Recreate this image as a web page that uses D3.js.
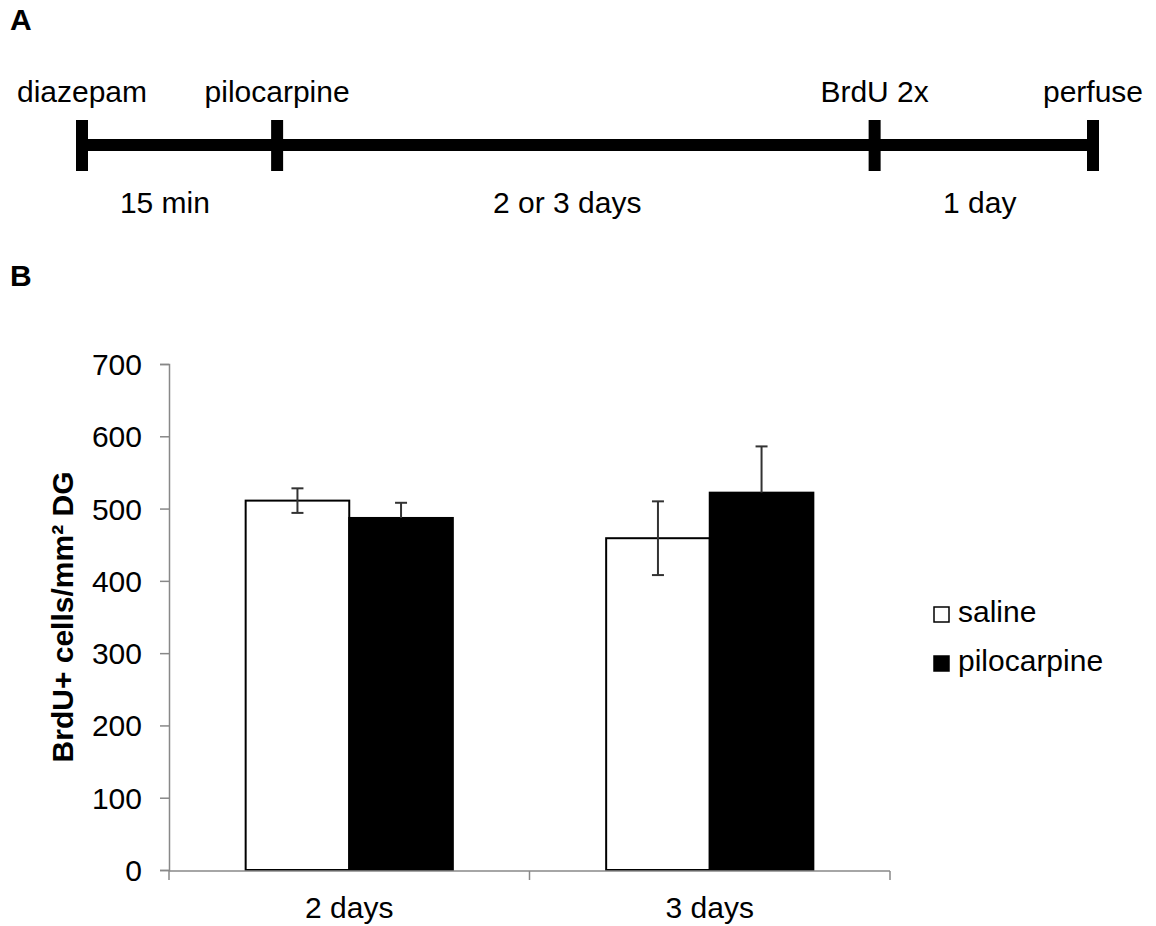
<!DOCTYPE html>
<html>
<head>
<meta charset="utf-8">
<script src="https://cdn.jsdelivr.net/npm/d3@7"></script>
<style>
  html, body { margin: 0; padding: 0; background: #fff; }
  svg { display: block; }
  text { font-family: "Liberation Sans", Arial, sans-serif; fill: #000; }
</style>
</head>
<body>
<script>
// ---- Data ----
const categories = ["2 days", "3 days"];
const series = ["saline", "pilocarpine"];
const salineValues = [511, 459];
const salineErrors = [17, 51];
const pilocarpineValues = [487, 522];
const pilocarpineErrors = [21, 64];
const yTicks = [0, 100, 200, 300, 400, 500, 600, 700];

// Timeline (panel A) – schematic positions on a 0..1 scale
const timelineEvents = ["diazepam", "pilocarpine", "BrdU 2x", "perfuse"];
const timelineEventPos = [0, 0.193, 0.784, 1];
const timelineIntervals = ["15 min", "2 or 3 days", "1 day"];
const timelineIntervalPos = [0.082, 0.48, 0.888];

const W = 1156, H = 926;
const svg = d3.select("body").append("svg").attr("width", W).attr("height", H);

// ---- Panel labels ----
svg.append("text").attr("x", 10).attr("y", 30).attr("font-size", 30).attr("font-weight", "bold").text("A");
svg.append("text").attr("x", 10).attr("y", 286).attr("font-size", 30).attr("font-weight", "bold").text("B");

// ---- Panel A: timeline ----
const tx = d3.scaleLinear().domain([0, 1]).range([82, 1093]);
const lineY = 145;
svg.append("line").attr("x1", tx(0)).attr("x2", tx(1)).attr("y1", lineY).attr("y2", lineY)
  .attr("stroke", "#000").attr("stroke-width", 12);
svg.selectAll("rect.tick-evt").data(timelineEventPos).enter().append("rect")
  .attr("class", "tick-evt")
  .attr("x", d => tx(d) - 6).attr("y", lineY - 25).attr("width", 12).attr("height", 51).attr("fill", "#000");
svg.selectAll("text.evt").data(timelineEvents).enter().append("text")
  .attr("class", "evt")
  .attr("x", (d, i) => tx(timelineEventPos[i])).attr("y", 102)
  .attr("text-anchor", "middle").attr("font-size", 30).text(d => d);
svg.selectAll("text.intv").data(timelineIntervals).enter().append("text")
  .attr("class", "intv")
  .attr("x", (d, i) => tx(timelineIntervalPos[i])).attr("y", 213)
  .attr("text-anchor", "middle").attr("font-size", 30).text(d => d);

// ---- Panel B: bar chart ----
const x0 = 169, x1 = 890, yTop = 364, yBot = 870;
const x = d3.scaleBand().domain(categories).range([x0, x1]).paddingInner(0).paddingOuter(0);
const xs = d3.scaleBand().domain(series).range([0, x.bandwidth()]).paddingInner(0).paddingOuter(0.74);
const y = d3.scaleLinear().domain([0, 700]).range([yBot, yTop]);

const data = [];
categories.forEach((c, i) => {
  data.push({ cat: c, ser: "saline", v: salineValues[i], e: salineErrors[i] });
  data.push({ cat: c, ser: "pilocarpine", v: pilocarpineValues[i], e: pilocarpineErrors[i] });
});

// Y axis
const yAxis = d3.axisLeft(y).tickValues(yTicks).tickSize(9).tickPadding(18).tickFormat(d3.format("d"));
const gy = svg.append("g").attr("transform", `translate(${x0},0)`).call(yAxis);
gy.select(".domain").attr("stroke", "#888").attr("stroke-width", 1.5);
gy.selectAll(".tick line").attr("stroke", "#888").attr("stroke-width", 1.5);
gy.selectAll(".tick text").attr("font-size", 30).attr("font-family", "Liberation Sans, Arial, sans-serif").attr("fill", "#000").attr("dy", "0.35em");

// Bars
svg.selectAll("rect.bar").data(data).enter().append("rect")
  .attr("class", "bar")
  .attr("x", d => x(d.cat) + xs(d.ser))
  .attr("y", d => y(d.v))
  .attr("width", xs.bandwidth())
  .attr("height", d => y(0) - y(d.v))
  .attr("fill", d => d.ser === "saline" ? "#fff" : "#000")
  .attr("stroke", "#000").attr("stroke-width", 2);

// X axis
const xAxisG = svg.append("g").attr("transform", `translate(0,${yBot + 1})`);
xAxisG.append("line").attr("x1", x0).attr("x2", x1).attr("y1", 0).attr("y2", 0).attr("stroke", "#888").attr("stroke-width", 1.5);
const xBoundaries = [x0].concat(categories.map(c => x(c) + x.bandwidth()));
xAxisG.selectAll("line.xt").data(xBoundaries).enter().append("line")
  .attr("class", "xt").attr("x1", d => d).attr("x2", d => d).attr("y1", 0).attr("y2", 9)
  .attr("stroke", "#888").attr("stroke-width", 1.5);
xAxisG.selectAll("text.xl").data(categories).enter().append("text")
  .attr("class", "xl").attr("x", d => x(d) + x.bandwidth() / 2).attr("y", 47)
  .attr("text-anchor", "middle").attr("font-size", 30).text(d => d);

// Error bars (lower whisker hidden inside black bars, as in the original)
const eb = svg.selectAll("g.err").data(data).enter().append("g").attr("class", "err");
const cx = d => x(d.cat) + xs(d.ser) + xs.bandwidth() / 2;
const lowY = d => d.ser === "saline" ? y(d.v - d.e) : y(d.v);
eb.append("line").attr("x1", cx).attr("x2", cx).attr("y1", d => y(d.v + d.e)).attr("y2", lowY)
  .attr("stroke", "#333").attr("stroke-width", 2);
eb.append("line").attr("x1", d => cx(d) - 6).attr("x2", d => cx(d) + 6).attr("y1", d => y(d.v + d.e)).attr("y2", d => y(d.v + d.e))
  .attr("stroke", "#333").attr("stroke-width", 2);
eb.filter(d => d.ser === "saline").append("line")
  .attr("x1", d => cx(d) - 6).attr("x2", d => cx(d) + 6).attr("y1", d => y(d.v - d.e)).attr("y2", d => y(d.v - d.e))
  .attr("stroke", "#333").attr("stroke-width", 2);

// Y axis label
svg.append("text")
  .attr("transform", `translate(73,${(yTop + yBot) / 2}) rotate(-90)`)
  .attr("text-anchor", "middle").attr("font-size", 30).attr("font-weight", "bold")
  .text("BrdU+ cells/mm² DG");

// Legend
const legend = svg.selectAll("g.leg").data(series).enter().append("g").attr("class", "leg")
  .attr("transform", (d, i) => `translate(934,${622 + i * 49})`);
legend.append("rect").attr("x", 0).attr("y", -15).attr("width", 15).attr("height", 15)
  .attr("fill", d => d === "saline" ? "#fff" : "#000").attr("stroke", "#000").attr("stroke-width", 1.5);
legend.append("text").attr("x", 24).attr("y", 0).attr("font-size", 30).text(d => d);
</script>
</body>
</html>
